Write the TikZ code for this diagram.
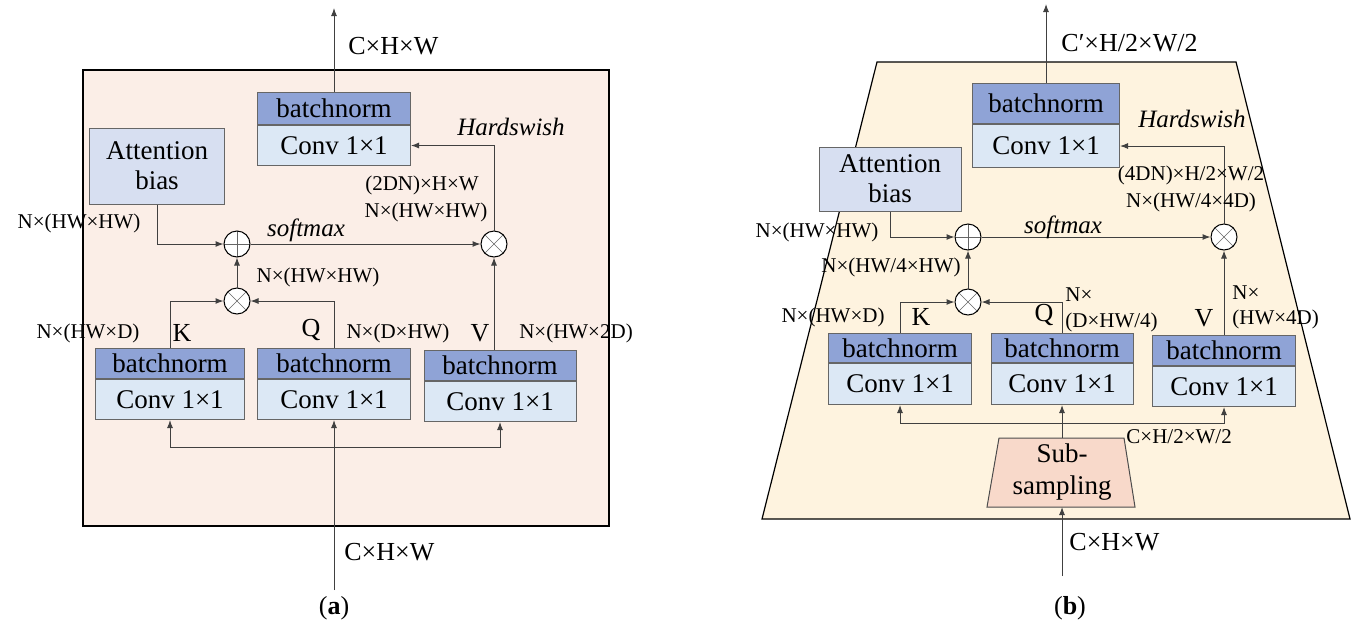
\documentclass[tikz,border=0pt]{standalone}
\usepackage{fontspec}
\setmainfont{Liberation Serif}
\usetikzlibrary{arrows.meta}
\definecolor{bnc}{HTML}{8FA3D6}
\definecolor{cvc}{HTML}{DCE8F5}
\definecolor{abc}{HTML}{D7DFF1}
\definecolor{pa}{HTML}{FBEEE7}
\definecolor{pb}{HTML}{FEF3DF}
\definecolor{sbc}{HTML}{F8D9CA}
\begin{document}
\begin{tikzpicture}[x=0.5pt,y=-0.5pt,
  box/.style={draw=black!60,line width=0.5pt,inner sep=0pt,font=\fontsize{13.5}{15}\selectfont},
  lbl/.style={font=\fontsize{10.5}{11}\selectfont,inner sep=0pt},
  big/.style={font=\fontsize{13}{14}\selectfont,inner sep=0pt},
  ital/.style={font=\fontsize{12.5}{14}\selectfont\itshape,inner sep=0pt},
  arr/.style={draw=black!75,line width=0.5pt,-{Latex[length=4pt,width=3pt]}},
  op/.style={circle,draw=black,line width=0.5pt,fill=white,minimum size=13pt,inner sep=0pt},
  ot/.style={op,path picture={\draw[black!60,line width=0.3pt] (path picture bounding box.north west)--(path picture bounding box.south east) (path picture bounding box.north east)--(path picture bounding box.south west);}},
  pl/.style={op,path picture={\draw[black!60,line width=0.3pt] (path picture bounding box.north)--(path picture bounding box.south) (path picture bounding box.east)--(path picture bounding box.west);}}
]
\useasboundingbox (0,0) rectangle (1360,638);
% ---------- panel a ----------
\draw[fill=pa,line width=0.6pt] (83,70) rectangle (609,526);
\def\blk#1#2#3#4#5#6{%
 \node[box,fill=bnc,minimum width=#3*0.5pt,minimum height=#5*0.5pt,anchor=north] (#1b) at (#2,#4) {batchnorm};
 \node[box,fill=cvc,minimum width=#3*0.5pt,minimum height=#6*0.5pt,anchor=north] (#1c) at (#1b.south) {Conv 1×1};}
\blk{at}{334}{153}{92}{32}{40}
\blk{ak}{170}{149}{348}{30}{40}
\blk{aq}{334}{153}{348}{30}{40}
\blk{av}{500}{152}{350}{30}{40}
\node[box,fill=abc,minimum width=67.5pt,minimum height=38pt,align=center] (aab) at (157,166) {Attention\\bias};
\node[pl] (ap) at (237,244) {};
\node[ot] (ax) at (494,244) {};
\node[ot] (am) at (237,301) {};
\coordinate (aout) at (334,8);
\coordinate (ain) at (334,590);
\draw[arr] (atb.north) -- (aout);
\draw[arr] (ain) -- (aqc.south);
\draw[arr] (334,447) -| (akc.south);
\draw[arr] (334,447) -| (avc.south);
\draw[arr] (akb.north) |- (am.west);
\draw[arr] (aqb.north) |- (am.east);
\draw[arr] (am) -- (ap);
\draw[arr] (aab.south) |- (ap.west);
\draw[arr] (ap) -- (ax);
\draw[arr] (ax.south|-avb.north) -- (ax.south);
\draw[arr] (ax.north) |- (atc.east);
\node[big,anchor=west] (l1) at (348,46) {C×H×W};
\node[big,anchor=west] (l2) at (344,552) {C×H×W};
\node[ital] (l3) at (511,127) {Hardswish};
\node[lbl] (l4) at (422,185) {(2DN)×H×W};
\node[lbl] (l5) at (426,212) {N×(HW×HW)};
\node[lbl] (l6) at (79,223) {N×(HW×HW)};
\node[ital] (l7) at (306,230) {softmax};
\node[lbl] (l8) at (318,277) {N×(HW×HW)};
\node[lbl] (l9) at (88,333) {N×(HW×D)};
\node[big] (l10) at (182,333) {K};
\node[big] (l11) at (311,330) {Q};
\node[lbl] (l12) at (398,333) {N×(D×HW)};
\node[big] (l13) at (480,333) {V};
\node[lbl] (l14) at (576,333) {N×(HW×2D)};
\node[font=\fontsize{13}{14}\selectfont] (ca) at (334,608) {(\textbf{a})};
% ---------- panel b ----------
\draw[fill=pb,line width=0.6pt] (877,62) -- (1236,62) -- (1350,519) -- (762,519) -- cycle;
\blk{bt}{1046}{147}{83}{40}{43}
\blk{bk}{900}{143}{333}{29}{41}
\blk{bq}{1062}{142}{333}{29}{41}
\blk{bv}{1224}{143}{335}{30}{40}
\node[box,fill=abc,minimum width=71pt,minimum height=32pt,align=center] (bab) at (890,179) {Attention\\bias};
\node[pl] (bp) at (968,237) {};
\node[ot] (bx) at (1224,237) {};
\node[ot] (bm) at (968,302) {};
\path[draw=black!70,line width=0.5pt,fill=sbc] (999,438) -- (1124,438) -- (1135,507) -- (987,507) -- cycle;
\node[font=\fontsize{13.5}{16}\selectfont,align=center] (bsl) at (1062,472) {Sub-\\sampling};
\coordinate (bst) at (1062,438);
\coordinate (bsb) at (1062,507);
\coordinate (bout) at (1046,4);
\coordinate (bin) at (1062,576);
\draw[arr] (btb.north) -- (bout);
\draw[arr] (bin) -- (bsb);
\draw[arr] (bst) -- (bqc.south);
\draw[arr] (1062,423) -| (bkc.south);
\draw[arr] (1062,423) -| (bvc.south);
\draw[arr] (bkb.north) |- (bm.west);
\draw[arr] (bqb.north) |- (bm.east);
\draw[arr] (bm) -- (bp);
\draw[arr] (bab.south) |- (bp.west);
\draw[arr] (bp) -- (bx);
\draw[arr] (bvb.north) -- (bx.south);
\draw[arr] (bx.north) |- (btc.east);
\node[big,anchor=west] (m1) at (1061,43) {C′×H/2×W/2};
\node[big,anchor=west] (m2) at (1069,542) {C×H×W};
\node[ital] (m3) at (1192,119) {Hardswish};
\node[lbl] (m4) at (1191,175) {(4DN)×H/2×W/2};
\node[lbl] (m5) at (1191,202) {N×(HW/4×4D)};
\node[lbl] (m6) at (817,232) {N×(HW×HW)};
\node[ital] (m7) at (1063,227) {softmax};
\node[lbl] (m8) at (891,267) {N×(HW/4×HW)};
\node[lbl] (m9) at (833,317) {N×(HW×D)};
\node[big] (m10) at (921,317) {K};
\node[big] (m11) at (1044,315) {Q};
\node[lbl,anchor=west] (m12) at (1065,295) {N×};
\node[lbl,anchor=west] (m13) at (1065,322) {(D×HW/4)};
\node[big] (m14) at (1204,318) {V};
\node[lbl,anchor=west] (m15) at (1232,293) {N×};
\node[lbl,anchor=west] (m16) at (1232,319) {(HW×4D)};
\node[lbl,anchor=west] (m17) at (1126,437) {C×H/2×W/2};
\node[font=\fontsize{13}{14}\selectfont] (cb) at (1070,608) {(\textbf{b})};
\end{tikzpicture}
\end{document}
